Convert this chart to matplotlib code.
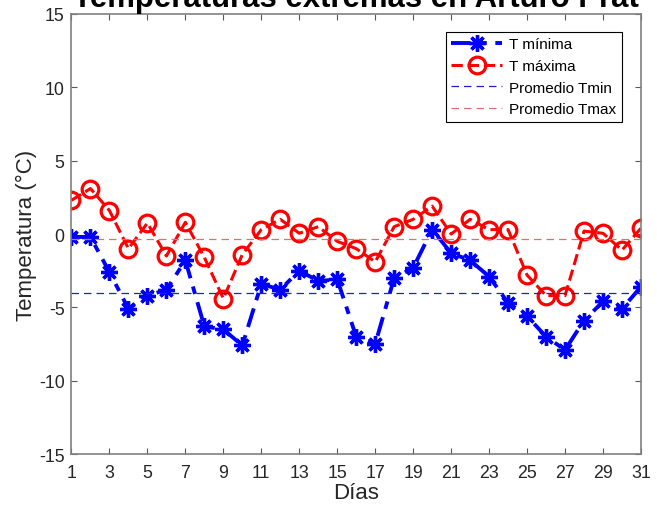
import numpy as np
import matplotlib
matplotlib.use("Agg")
import matplotlib.pyplot as plt

plt.rcParams['font.family'] = ['Liberation Sans', 'DejaVu Sans']
plt.rcParams['axes.unicode_minus'] = False
NARROW = ['Liberation Sans Narrow', 'Liberation Sans', 'DejaVu Sans']

# daily extremes, Arturo Prat
dias = np.arange(1, 32)
t_min = [-0.2, -0.2, -2.6, -5.1, -4.2, -3.8, -1.8, -6.3, -6.5, -7.6,
         -3.4, -3.8, -2.5, -3.2, -3.1, -7.0, -7.5, -3.0, -2.3, 0.3,
         -1.3, -1.8, -2.9, -4.7, -5.6, -7.0, -7.9, -5.9, -4.6, -5.1, -3.6]
t_max = [2.3, 3.1, 1.6, -1.0, 0.75, -1.5, 0.8, -1.6, -4.4, -1.4,
         0.3, 1.0, 0.05, 0.5, -0.5, -1.0, -1.9, 0.5, 1.0, 1.9,
         0.0, 1.0, 0.3, 0.3, -2.8, -4.2, -4.2, 0.2, 0.05, -1.1, 0.4]
x_ticks = list(range(1, 32, 2))
y_ticks = [-15, -10, -5, 0, 5, 10, 15]

fig = plt.figure(figsize=(6.57, 5.10), dpi=100)
ax = fig.add_axes([0.1088, 0.1078, 0.8668, 0.8628])

ax.plot(dias, t_min, color='blue', lw=2.8, ls=(0, (5, 2.2, 2, 2.2)),
        marker=(8, 2, 0), ms=12, mew=2.4, label='T mínima')
ax.plot(dias, t_max, '--', color='red', lw=2.2, marker='o', ms=12,
        mfc='none', mew=2.3, label='T máxima')
ax.axhline(np.mean(t_min), color='#2020c8', ls=(0, (6, 4)), lw=0.9,
           label='Promedio Tmin')
ax.axhline(np.mean(t_max), color='#e07070', ls=(0, (6, 4)), lw=0.9,
           label='Promedio Tmax')

ax.set_xlim(1, 31)
ax.set_ylim(-15, 15)
ax.set_xticks(x_ticks)
ax.set_yticks(y_ticks)
ax.tick_params(direction='in', top=True, right=True, length=4,
               width=0.8, color='0.35', labelcolor='0.15', labelsize=12.8)
ax.tick_params(axis='x', pad=7)
ax.tick_params(axis='y', pad=5)
for lab in ax.get_xticklabels() + ax.get_yticklabels():
    lab.set_family(NARROW)
for s in ax.spines.values():
    s.set_color('0.5')
    s.set_linewidth(1.2)

ax.set_xlabel('Días', fontsize=16, color='0.15', labelpad=1)
ax.set_ylabel('Temperatura (°C)', fontsize=16, color='0.15', labelpad=1)
ax.set_title('Temperaturas extremas en Arturo Prat', fontsize=22.4,
             fontweight='bold', pad=5.8)

leg = ax.legend(loc='upper right', bbox_to_anchor=(0.9666, 0.959),
                borderaxespad=0, fontsize=11, fancybox=False, framealpha=1,
                edgecolor='black', borderpad=0.35, labelspacing=0.5,
                handlelength=3.3, handletextpad=0.5)
leg.get_frame().set_linewidth(0.8)

fig.savefig('out.png', dpi=100)
